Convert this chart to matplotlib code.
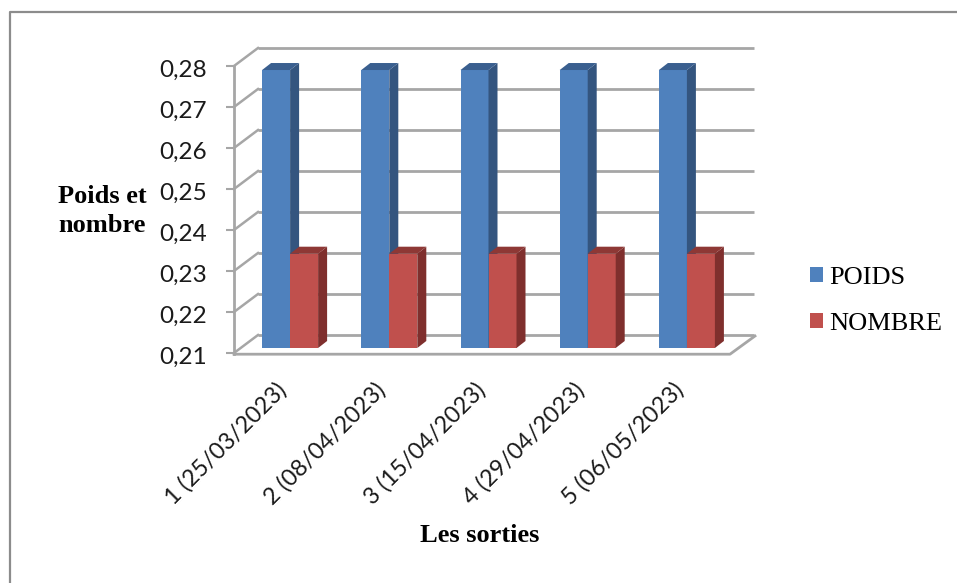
import matplotlib
matplotlib.use('Agg')
import matplotlib.pyplot as plt
from matplotlib.lines import Line2D
from matplotlib.patches import Patch, Polygon
from matplotlib.transforms import ScaledTranslation

# Donnees
sorties = ['1 (25/03/2023)', '2 (08/04/2023)', '3 (15/04/2023)', '4 (29/04/2023)', '5 (06/05/2023)']
poids = [0.2778, 0.2778, 0.2778, 0.2778, 0.2778]
nombre = [0.233, 0.233, 0.233, 0.233, 0.233]
y_ticks = [0.21, 0.22, 0.23, 0.24, 0.25, 0.26, 0.27, 0.28]
y_labels = ['0,21', '0,22', '0,23', '0,24', '0,25', '0,26', '0,27', '0,28']

W, H = 957, 583
DPI = 100
BLUE, BLUE_DK, BLUE_TOP = '#4f81bd', '#34557f', '#3a5f8f'
RED, RED_DK, RED_TOP = '#c0504d', '#7f2f2d', '#8e3835'
GRID = '#a6a6a6'

fig = plt.figure(figsize=(W / DPI, H / DPI), dpi=DPI, facecolor='white')

# cadre exterieur (gauche et haut seulement, le reste sort de l'image)
fig.add_artist(Line2D([9.5 / W, 9.5 / W, 1], [0, 1 - 11.5 / H, 1 - 11.5 / H], transform=fig.transFigure,
                      color='#8c8c8c', linewidth=1.6))

# plan avant des axes, en pixels de l'image
left, right, top, bottom = 234, 730, 66, 353
ax = fig.add_axes([left / W, 1 - bottom / H, (right - left) / W, (bottom - top) / H])
ax.set_xlim(0, len(sorties))
ax.set_ylim(0.21, 0.28)
ax.patch.set_visible(False)
for s in ax.spines.values():
    s.set_visible(False)


def decal(px, py):
    # decalage "profondeur" en pixels
    return ax.transData + ScaledTranslation(px / DPI, py / DPI, fig.dpi_scale_trans)


back = decal(24, 18)
x_unit = (right - left) / len(sorties)
y_unit = 0.07 / (bottom - top)

# mur du fond + parois
ax.hlines(y_ticks, 0, len(sorties), color=GRID, lw=2, transform=back, clip_on=False, zorder=1)
for y in y_ticks:
    ax.plot([0, 24 / x_unit], [y, y + 18 * y_unit], color=GRID, lw=1.8, clip_on=False, zorder=1)

# plancher et axe vertical
y0 = 0.21 - 1.2 * y_unit
xf = len(sorties)
ax.plot([0, xf, xf + 25 / x_unit], [y0, y0, 0.21 + 17 * y_unit], color=GRID, lw=2, clip_on=False, zorder=1)
ax.plot([0, 0], [y0, 0.28], color=GRID, lw=2, clip_on=False, zorder=1)

# barres 3D
bar_w = 28 / x_unit
dep_x, dep_y = 9 / x_unit, 7 * y_unit
bar_tr = decal(6.5, 5)
for i in range(len(sorties)):
    c = i + 0.5
    for x0, v, col, dk, tp in [(c - bar_w, poids[i], BLUE, BLUE_DK, BLUE_TOP),
                               (c, nombre[i], RED, RED_DK, RED_TOP)]:
        ax.bar(x0, v - 0.21, bar_w, bottom=0.21, align='edge', color=col, transform=bar_tr, clip_on=False, zorder=3)
        x1 = x0 + bar_w
        ax.add_patch(Polygon([(x1, 0.21), (x1 + dep_x, 0.21 + dep_y), (x1 + dep_x, v + dep_y), (x1, v)],
                             facecolor=dk, edgecolor='none', transform=bar_tr, clip_on=False, zorder=3))
        ax.add_patch(Polygon([(x0, v), (x0 + dep_x, v + dep_y), (x1 + dep_x, v + dep_y), (x1, v)],
                             facecolor=tp, edgecolor='none', transform=bar_tr, clip_on=False, zorder=3))

# axes
ax.set_yticks(y_ticks)
ax.set_yticklabels(y_labels, fontsize=17.5, family='Lato', color='#1a1a1a')
ax.tick_params(axis='y', length=5.5, width=1.5, color=GRID, pad=14)
for lbl in ax.get_yticklabels():
    lbl.set_transform(lbl.get_transform() + ScaledTranslation(0, -2 / DPI, fig.dpi_scale_trans))
ax.set_xticks([i + 0.5 for i in range(len(sorties))])
ax.set_xticklabels(sorties, fontsize=16.8, family='Lato', color='#1a1a1a', rotation=45, ha='right',
                   rotation_mode='anchor')
ax.tick_params(axis='x', length=0, pad=20)
for lbl in ax.get_xticklabels():
    lbl.set_transform(lbl.get_transform() + ScaledTranslation(-8 / DPI, 2 / DPI, fig.dpi_scale_trans))

fig.text(102 / W, 1 - 211 / H, 'Poids et\nnombre', fontsize=19, family='Liberation Serif', weight='bold',
         ha='center', va='center', linespacing=1.38, color='black')
fig.text(480 / W, 1 - 536 / H, 'Les sorties', fontsize=19, family='Liberation Serif', weight='bold',
         ha='center', va='center', color='black')

handles = [Patch(facecolor=BLUE, label='POIDS'), Patch(facecolor=RED, label='NOMBRE')]
leg = fig.legend(handles=handles, loc='center left', bbox_to_anchor=(810 / W, 1 - 301 / H), frameon=False,
                 prop={'family': 'Liberation Serif', 'size': 19}, handlelength=0.5, handleheight=0.5,
                 handletextpad=0.22, labelspacing=0.9, borderpad=0, borderaxespad=0)

fig.savefig('out.png', dpi=DPI)
